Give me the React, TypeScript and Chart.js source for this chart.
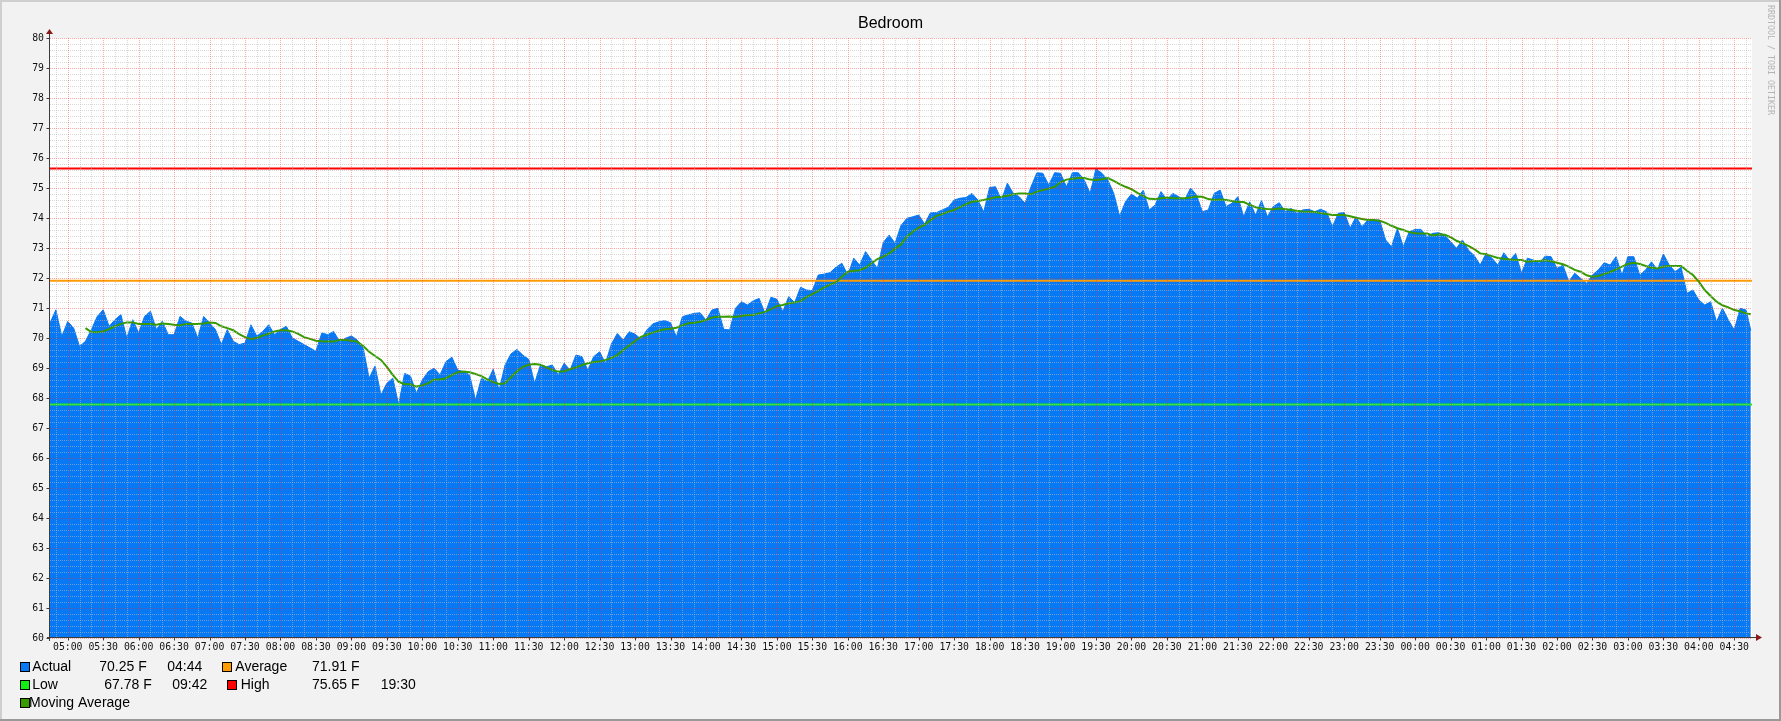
import React, { useEffect, useRef } from "react";
import { Chart, registerables } from "chart.js";

Chart.register(...registerables);

// ---------------- DATA ----------------
const TITLE = "Bedroom";
const WATERMARK = "RRDTOOL / TOBI OETIKER";
const UNIT = "F";

// time axis: minutes since midnight of the first day
const START_MINUTE = 285; // 04:45
const END_MINUTE = 1725; // 04:45 next day
const STEP_MINUTES = 5;

// Actual temperature, one value every 5 minutes from 04:45
const actualValues = [
  70.50, 70.94, 70.05, 70.55, 70.33, 69.72, 69.89, 70.28, 70.72, 70.94, 70.39, 70.61,
  70.78, 70.00, 70.61, 70.17, 70.72, 70.89, 70.28, 70.56, 70.11, 70.11, 70.72, 70.56,
  70.50, 70.00, 70.72, 70.50, 70.28, 69.78, 70.28, 69.89, 69.78, 69.83, 70.44, 70.06,
  70.22, 70.44, 70.11, 70.28, 70.39, 70.00, 69.89, 69.78, 69.67, 69.56, 70.17, 70.11,
  70.22, 69.88, 69.99, 70.07, 69.93, 69.66, 68.66, 69.07, 68.10, 68.49, 68.66, 67.78,
  68.82, 68.73, 68.16, 68.60, 68.88, 68.99, 68.77, 69.21, 69.36, 68.93, 68.88, 68.77,
  67.93, 68.66, 68.54, 68.96, 68.27, 69.10, 69.47, 69.62, 69.43, 69.29, 68.49, 69.10,
  69.04, 69.10, 68.77, 69.16, 68.93, 69.43, 69.38, 68.93, 69.38, 69.54, 69.16, 69.80,
  70.15, 69.93, 70.21, 70.13, 69.96, 70.27, 70.47, 70.54, 70.58, 70.51, 70.04, 70.71,
  70.77, 70.82, 70.84, 70.60, 70.93, 70.99, 70.29, 70.27, 70.99, 71.21, 71.10, 71.24,
  71.32, 70.82, 71.36, 71.29, 70.88, 71.38, 71.18, 71.69, 71.60, 71.58, 72.10, 72.13,
  72.18, 72.36, 72.49, 72.10, 72.66, 72.43, 72.88, 72.60, 72.32, 73.18, 73.43, 73.16,
  73.75, 73.99, 74.04, 74.10, 73.80, 74.18, 74.18, 74.27, 74.36, 74.60, 74.66, 74.68,
  74.82, 74.60, 74.20, 75.02, 75.04, 74.60, 75.16, 74.82, 74.71, 74.49, 75.04, 75.51,
  75.49, 75.10, 75.51, 75.49, 75.04, 75.51, 75.51, 75.27, 74.82, 75.65, 75.49, 75.27,
  74.82, 74.06, 74.55, 74.80, 74.66, 74.93, 74.27, 74.43, 74.88, 74.60, 74.82, 74.71,
  74.60, 75.00, 74.77, 74.21, 74.27, 74.82, 74.93, 74.38, 74.49, 74.71, 74.04, 74.54,
  74.10, 74.58, 74.04, 74.38, 74.51, 74.21, 74.32, 74.16, 74.27, 74.29, 74.21, 74.29,
  74.21, 73.71, 74.16, 74.18, 73.66, 74.04, 73.71, 73.93, 73.93, 73.93, 73.27, 73.04,
  73.66, 73.04, 73.54, 73.62, 73.62, 73.38, 73.49, 73.51, 73.43, 73.21, 72.99, 73.27,
  72.93, 72.75, 72.43, 72.82, 72.66, 72.43, 72.84, 72.58, 72.82, 72.16, 72.66, 72.60,
  72.49, 72.73, 72.71, 72.32, 72.43, 71.88, 72.16, 71.99, 71.82, 72.10, 72.27, 72.51,
  72.43, 72.71, 72.10, 72.71, 72.71, 72.10, 72.27, 72.54, 72.27, 72.80, 72.43, 72.21,
  72.36, 71.49, 71.60, 71.27, 71.10, 71.21, 70.54, 70.99, 70.60, 70.27, 70.99, 70.93,
];
const actualLastMinute = 1724; // 04:44
const actualLast = 70.25;

// Moving average, same 5-minute grid (no value for the first half hour)
const movingAverageValues: (number | null)[] = [
  null, null, null, null, null, null, 70.33, 70.20, 70.19, 70.22, 70.30, 70.39,
  70.47, 70.52, 70.52, 70.47, 70.47, 70.47, 70.44, 70.48, 70.47, 70.44, 70.42, 70.47,
  70.47, 70.47, 70.48, 70.52, 70.50, 70.39, 70.33, 70.26, 70.13, 70.03, 69.97, 70.00,
  70.08, 70.14, 70.22, 70.26, 70.26, 70.22, 70.14, 70.03, 69.97, 69.91, 69.89, 69.88,
  69.88, 69.93, 69.93, 69.91, 69.88, 69.73, 69.54, 69.40, 69.27, 69.04, 68.77, 68.54,
  68.46, 68.46, 68.38, 68.42, 68.49, 68.62, 68.62, 68.66, 68.76, 68.86, 68.88, 68.86,
  68.80, 68.73, 68.62, 68.53, 68.47, 68.49, 68.69, 68.88, 69.04, 69.11, 69.13, 69.11,
  69.02, 68.93, 68.88, 68.89, 68.96, 69.02, 69.09, 69.16, 69.20, 69.22, 69.27, 69.33,
  69.43, 69.60, 69.75, 69.90, 70.04, 70.11, 70.18, 70.24, 70.29, 70.31, 70.34, 70.42,
  70.49, 70.51, 70.54, 70.60, 70.68, 70.71, 70.71, 70.72, 70.70, 70.73, 70.77, 70.77,
  70.82, 70.87, 70.96, 71.07, 71.10, 71.16, 71.18, 71.23, 71.36, 71.46, 71.57, 71.69,
  71.78, 71.86, 72.04, 72.21, 72.24, 72.26, 72.34, 72.49, 72.63, 72.71, 72.82, 72.98,
  73.12, 73.38, 73.54, 73.68, 73.77, 73.93, 74.07, 74.13, 74.21, 74.27, 74.36, 74.46,
  74.54, 74.57, 74.60, 74.64, 74.69, 74.71, 74.74, 74.79, 74.82, 74.82, 74.79, 74.88,
  74.93, 74.98, 75.04, 75.19, 75.28, 75.31, 75.33, 75.33, 75.28, 75.27, 75.29, 75.33,
  75.24, 75.13, 75.04, 74.96, 74.84, 74.73, 74.64, 74.63, 74.66, 74.68, 74.66, 74.66,
  74.66, 74.68, 74.72, 74.71, 74.63, 74.60, 74.62, 74.60, 74.57, 74.53, 74.53, 74.44,
  74.36, 74.32, 74.30, 74.29, 74.32, 74.30, 74.27, 74.24, 74.22, 74.21, 74.20, 74.17,
  74.13, 74.10, 74.10, 74.10, 74.06, 74.01, 73.97, 73.93, 73.93, 73.91, 73.84, 73.74,
  73.66, 73.60, 73.53, 73.49, 73.48, 73.48, 73.42, 73.46, 73.44, 73.36, 73.24, 73.16,
  73.07, 72.96, 72.82, 72.79, 72.73, 72.67, 72.64, 72.62, 72.60, 72.60, 72.54, 72.57,
  72.57, 72.59, 72.56, 72.51, 72.46, 72.38, 72.27, 72.21, 72.09, 72.04, 72.07, 72.13,
  72.20, 72.29, 72.38, 72.47, 72.51, 72.47, 72.40, 72.34, 72.32, 72.38, 72.40, 72.40,
  72.40, 72.24, 72.10, 71.88, 71.60, 71.40, 71.21, 71.09, 71.02, 70.93, 70.89, 70.82,
];
const movingAverageLast = 70.79;

// Summary values
const averageValue = 71.91;
const lowValue = 67.78;
const lowTime = "09:42";
const highValue = 75.65;
const highTime = "19:30";
const lastTime = "04:44";

// Axis ranges / grid steps
const Y_MIN = 60;
const Y_MAX = 80;
const Y_MINOR_STEP = 0.2;
const X_MINOR_STEP = 10;
const X_LABEL_STEP = 30;

// ---------------- STYLE ----------------
const W = 1781;
const H = 721;
const BG = "#f2f2f2";
const ACTUAL_COLOR = "#0779f4";
const MA_COLOR = "#379a00";
const AVG_COLOR = "#ff9a00";
const LOW_COLOR = "#11ee11";
const HIGH_COLOR = "#ff0000";
const MINOR_GRID = "rgba(185,185,185,0.55)";
const MAJOR_GRID = "rgba(255,30,30,0.38)";
const AXIS_COLOR = "#3c3c3c";
const ARROW_COLOR = "#8a1a1a";
const MONO = "'DejaVu Sans Mono', monospace";
const SANS = "'Liberation Sans', Arial, sans-serif";

function fmtTime(minute: number): string {
  const m = ((Math.round(minute) % 1440) + 1440) % 1440;
  return `${String(Math.floor(m / 60)).padStart(2, "0")}:${String(m % 60).padStart(2, "0")}`;
}

const xTickValues: number[] = [];
for (let v = Math.ceil(START_MINUTE / X_MINOR_STEP) * X_MINOR_STEP; v <= END_MINUTE; v += X_MINOR_STEP) xTickValues.push(v);
const yTickValues: number[] = [];
for (let i = 0; i <= Math.round((Y_MAX - Y_MIN) / Y_MINOR_STEP); i++) yTickValues.push(+(Y_MIN + i * Y_MINOR_STEP).toFixed(2));
const isYMajor = (v: number) => Math.abs(v - Math.round(v)) < 1e-6;
const isXMajor = (v: number) => Math.round(v) % X_LABEL_STEP === 0;

// legend entries (text from the data above)
const legendEntries = [
  { color: ACTUAL_COLOR, label: "Actual", value: `${actualLast.toFixed(2)} ${UNIT}`, time: lastTime, row: 0, sx: 19.5, lx: 32.3, vx: 99.3, tx: 167.3 },
  { color: AVG_COLOR, label: "Average", value: `${averageValue.toFixed(2)} ${UNIT}`, time: "", row: 0, sx: 222, lx: 235.3, vx: 312, tx: 0 },
  { color: LOW_COLOR, label: "Low", value: `${lowValue.toFixed(2)} ${UNIT}`, time: lowTime, row: 1, sx: 19.5, lx: 32.3, vx: 104.3, tx: 172.3 },
  { color: HIGH_COLOR, label: "High", value: `${highValue.toFixed(2)} ${UNIT}`, time: highTime, row: 1, sx: 227.3, lx: 240.7, vx: 312, tx: 380.7 },
  { color: MA_COLOR, label: "Moving Average", value: "", time: "", row: 2, sx: 19.5, lx: 29, vx: 0, tx: 0 },
];
const LEGEND_BASELINES = [671, 689, 707];

export default function App() {
  const ref = useRef<HTMLCanvasElement | null>(null);

  useEffect(() => {
    document.body.style.margin = "0";
    const canvas = ref.current;
    if (!canvas) return;

    const actualPoints = actualValues
      .map((y, i) => ({ x: START_MINUTE + i * STEP_MINUTES, y }))
      .concat([{ x: actualLastMinute, y: actualLast }]);
    const maPoints = movingAverageValues
      .map((y, i) => ({ x: START_MINUTE + i * STEP_MINUTES, y }))
      .concat([{ x: actualLastMinute, y: movingAverageLast }]);
    const hline = (v: number) => [
      { x: START_MINUTE, y: v },
      { x: END_MINUTE, y: v },
    ];

    const rrdPlugin = {
      id: "rrdFrame",
      beforeDraw(chart: any) {
        const { ctx, chartArea: a } = chart;
        ctx.save();
        ctx.fillStyle = BG;
        ctx.fillRect(0, 0, W, H);
        ctx.fillStyle = "#cfcfcf";
        ctx.fillRect(0, 0, W, 2);
        ctx.fillRect(0, 0, 2, H);
        ctx.fillStyle = "#9a9a9a";
        ctx.fillRect(W - 2, 0, 2, H);
        ctx.fillRect(0, H - 2, W, 2);
        ctx.fillStyle = "#ffffff";
        ctx.fillRect(a.left, a.top, a.right - a.left, a.bottom - a.top);
        ctx.restore();
      },
      afterDatasetsDraw(chart: any) {
        const { ctx, chartArea: a, scales } = chart;
        const xs = scales.x;
        const ys = scales.y;
        ctx.save();
        ctx.lineWidth = 1;
        ctx.setLineDash([1, 1]);
        for (const pass of [false, true]) {
          for (const v of xTickValues) {
            if (isXMajor(v) !== pass) continue;
            const px = Math.round(xs.getPixelForValue(v)) + 0.5;
            ctx.strokeStyle = pass ? MAJOR_GRID : MINOR_GRID;
            ctx.beginPath();
            ctx.moveTo(px, a.top);
            ctx.lineTo(px, a.bottom);
            ctx.stroke();
          }
          for (const v of yTickValues) {
            if (isYMajor(v) !== pass) continue;
            const py = Math.round(ys.getPixelForValue(v)) + 0.5;
            ctx.strokeStyle = pass ? MAJOR_GRID : MINOR_GRID;
            ctx.beginPath();
            ctx.moveTo(a.left, py);
            ctx.lineTo(a.right, py);
            ctx.stroke();
          }
        }
        ctx.restore();
      },
      afterDraw(chart: any) {
        const { ctx, chartArea: a, scales } = chart;
        const xs = scales.x;
        const ys = scales.y;
        ctx.save();
        ctx.strokeStyle = AXIS_COLOR;
        ctx.lineWidth = 1;
        const ax = Math.round(a.left) - 0.5;
        const ay = Math.round(a.bottom) - 0.5;
        ctx.beginPath();
        ctx.moveTo(ax, a.bottom + 3);
        ctx.lineTo(ax, a.top - 5);
        ctx.moveTo(a.left - 3, ay);
        ctx.lineTo(a.right + 5, ay);
        ctx.stroke();
        ctx.beginPath();
        for (const v of xTickValues) {
          if (!isXMajor(v)) continue;
          const px = Math.round(xs.getPixelForValue(v)) + 0.5;
          ctx.moveTo(px, ay);
          ctx.lineTo(px, ay + 3);
        }
        for (const v of yTickValues) {
          if (!isYMajor(v)) continue;
          const py = Math.round(ys.getPixelForValue(v)) + 0.5;
          ctx.moveTo(ax - 3, py);
          ctx.lineTo(ax, py);
        }
        ctx.stroke();
        ctx.fillStyle = ARROW_COLOR;
        ctx.beginPath();
        ctx.moveTo(ax - 3.5, a.top - 4);
        ctx.lineTo(ax + 3.5, a.top - 4);
        ctx.lineTo(ax, a.top - 9);
        ctx.closePath();
        ctx.fill();
        ctx.beginPath();
        ctx.moveTo(a.right + 4, ay - 3.5);
        ctx.lineTo(a.right + 4, ay + 3.5);
        ctx.lineTo(a.right + 10, ay);
        ctx.closePath();
        ctx.fill();

        ctx.fillStyle = "#000";
        ctx.font = `16px ${SANS}`;
        ctx.textAlign = "center";
        ctx.textBaseline = "alphabetic";
        ctx.fillText(TITLE, W / 2, 28);

        ctx.save();
        ctx.translate(1768, 5);
        ctx.rotate(Math.PI / 2);
        ctx.font = `8.3px ${MONO}`;
        ctx.fillStyle = "#b4b4b4";
        ctx.textAlign = "left";
        ctx.textBaseline = "alphabetic";
        ctx.fillText(WATERMARK, 0, 0);
        ctx.restore();

        ctx.font = `14px ${SANS}`;
        ctx.textAlign = "left";
        ctx.textBaseline = "alphabetic";
        for (const e of legendEntries) {
          const base = LEGEND_BASELINES[e.row];
          const top = base - 9.5;
          ctx.fillStyle = e.color;
          ctx.fillRect(Math.round(e.sx), Math.round(top), 10, 10);
          ctx.strokeStyle = "#000";
          ctx.lineWidth = 1;
          ctx.setLineDash([]);
          ctx.strokeRect(Math.round(e.sx) + 0.5, Math.round(top) + 0.5, 9, 9);
          ctx.fillStyle = "#000";
          ctx.fillText(e.label, e.lx, base);
          if (e.value) ctx.fillText(e.value, e.vx, base);
          if (e.time) ctx.fillText(e.time, e.tx, base);
        }
        ctx.restore();
      },
    };

    const chart = new Chart(canvas, {
      type: "line",
      data: {
        datasets: [
          {
            label: "Actual",
            data: actualPoints,
            borderColor: ACTUAL_COLOR,
            backgroundColor: ACTUAL_COLOR,
            borderWidth: 1,
            pointRadius: 0,
            fill: "start",
            tension: 0,
            order: 10,
          },
          {
            label: "Moving Average",
            data: maPoints,
            borderColor: MA_COLOR,
            borderWidth: 2,
            pointRadius: 0,
            fill: false,
            tension: 0,
            order: 1,
          },
          {
            label: "Average",
            data: hline(averageValue),
            borderColor: AVG_COLOR,
            borderWidth: 2,
            pointRadius: 0,
            fill: false,
            order: 2,
          },
          {
            label: "Low",
            data: hline(lowValue),
            borderColor: LOW_COLOR,
            borderWidth: 2,
            pointRadius: 0,
            fill: false,
            order: 3,
          },
          {
            label: "High",
            data: hline(highValue),
            borderColor: HIGH_COLOR,
            borderWidth: 2,
            pointRadius: 0,
            fill: false,
            order: 4,
          },
        ],
      },
      options: {
        responsive: false,
        animation: false,
        events: [],
        layout: { padding: { left: 0, top: 38, right: 29, bottom: 0 } },
        plugins: {
          legend: { display: false },
          tooltip: { enabled: false },
          title: { display: false },
        },
        scales: {
          x: {
            type: "linear",
            min: START_MINUTE,
            max: END_MINUTE,
            afterBuildTicks: (s: any) => {
              s.ticks = xTickValues.map((value) => ({ value }));
            },
            afterFit: (s: any) => {
              s.height = 83;
            },
            grid: { display: false, drawTicks: false },
            border: { display: false },
            ticks: {
              autoSkip: false,
              maxRotation: 0,
              minRotation: 0,
              padding: 4,
              color: "#111",
              font: { family: MONO, size: 9.8 },
              callback: (v: any) => (isXMajor(Number(v)) ? fmtTime(Number(v)) : ""),
            },
          },
          y: {
            type: "linear",
            min: Y_MIN,
            max: Y_MAX,
            afterBuildTicks: (s: any) => {
              s.ticks = yTickValues.map((value) => ({ value }));
            },
            afterFit: (s: any) => {
              s.width = 50;
            },
            grid: { display: false, drawTicks: false },
            border: { display: false },
            ticks: {
              autoSkip: false,
              padding: 6,
              color: "#111",
              font: { family: MONO, size: 9.8 },
              callback: (v: any) => (isYMajor(Number(v)) ? String(Math.round(Number(v))) : ""),
            },
          },
        },
      },
      plugins: [rrdPlugin],
    } as any);

    return () => chart.destroy();
  }, []);

  return (
    <div style={{ position: "absolute", left: 0, top: 0, width: W, height: H }}>
      <canvas ref={ref} width={W} height={H} style={{ width: W, height: H, display: "block" }} />
    </div>
  );
}
